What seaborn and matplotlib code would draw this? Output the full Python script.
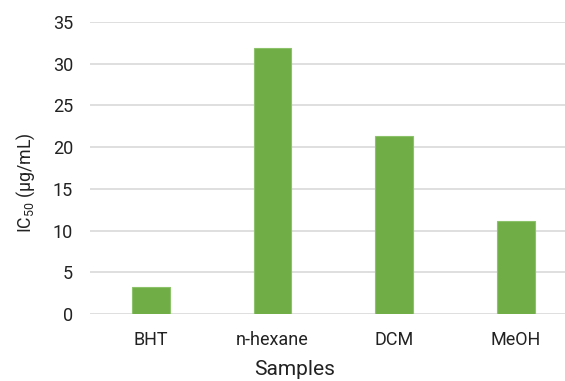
import matplotlib
matplotlib.use("Agg")
import matplotlib.pyplot as plt
import seaborn as sns
import pandas as pd

# chart data
samples = ["BHT", "n-hexane", "DCM", "MeOH"]
ic50 = [3.2, 31.85, 21.3, 11.1]
y_ticks = [0, 5, 10, 15, 20, 25, 30, 35]

sns.set_style("white")
plt.rcParams['font.family'] = ['Roboto', 'DejaVu Sans']
plt.rcParams['mathtext.default'] = 'regular'

df = pd.DataFrame({"Samples": samples, "IC50": ic50})

fig = plt.figure(figsize=(5.65, 3.81), dpi=100)
ax = fig.add_axes([0.159, 0.176, 0.862, 0.766])

sns.barplot(data=df, x="Samples", y="IC50", color="#70AD47", width=0.31,
            edgecolor="#8CC26A", linewidth=0.8, saturation=1, ax=ax, zorder=3)

ax.set_ylim(0, 35)
ax.set_xlim(-0.5, 3.5)
ax.set_yticks(y_ticks)
ax.yaxis.grid(True, color="#D9D9D9", linewidth=1.2, zorder=0)
ax.set_axisbelow(True)
for s in ax.spines.values():
    s.set_visible(False)

ax.tick_params(axis='both', length=0, labelsize=13, labelcolor="#222222")
ax.tick_params(axis='y', pad=12)
ax.tick_params(axis='x', pad=12)
ax.set_xlabel("Samples", fontsize=15, color="#222222")
ax.set_ylabel("IC$_{50}$ (μg/mL)", fontsize=12.8, color="#222222")
# the axis titles sit a bit off the plot-area centre in the original
ax.xaxis.set_label_coords(0.4206, -0.158)
ax.yaxis.set_label_coords(-0.109, 0.4487)

fig.savefig("out.png", dpi=100)
